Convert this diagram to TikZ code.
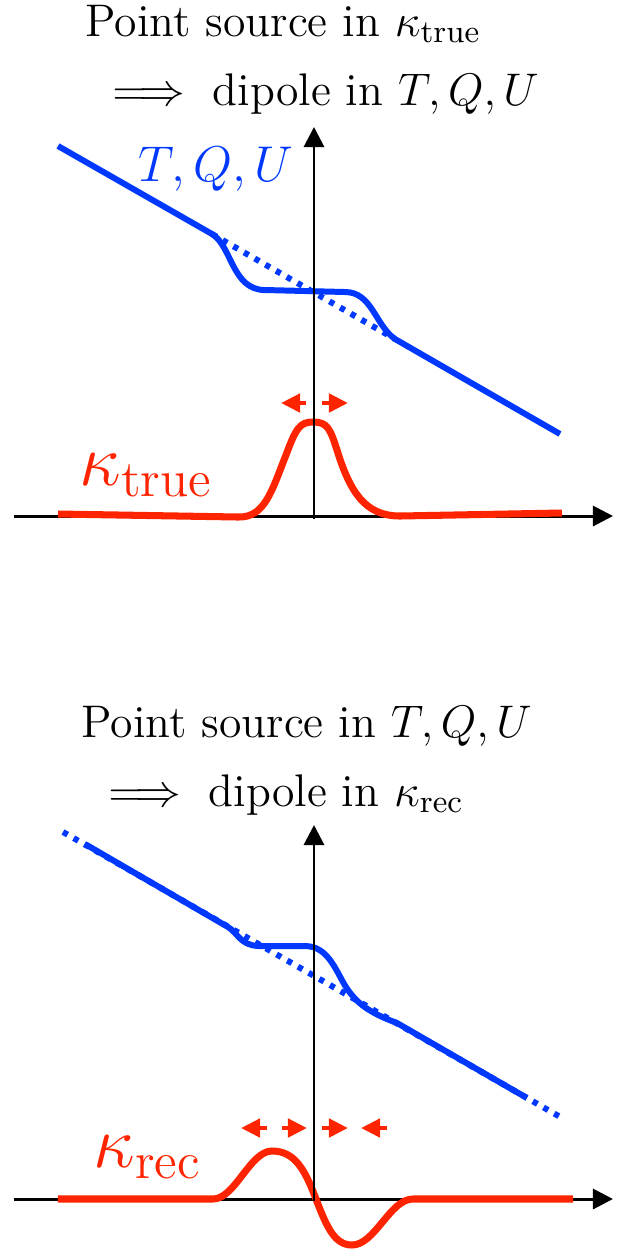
\documentclass[tikz,border=0pt]{standalone}
\usepackage{fix-cm}
\usepackage{amsmath}
\usepackage{tikz}
\definecolor{fieldblue}{RGB}{0,56,255}
\definecolor{kappared}{RGB}{255,36,0}
\usetikzlibrary{arrows.meta}

\begin{document}
\begin{tikzpicture}[x=0.01cm, y=-0.01cm,
    axis/.style={line width=0.85pt, -{Triangle[length=0.2cm, width=0.2cm]}},
    field/.style={fieldblue, line width=1.7pt},
    fielddot/.style={fieldblue, line width=1.7pt, dash pattern=on 1.5pt off 2pt},
    kappa/.style={kappared, line width=2pt},
    shiftarrow/.style={kappared, line width=1.3pt, -{Triangle[length=0.19cm, width=0.18cm]}},
    heading/.style={anchor=base west, inner sep=0pt, align=left, font=\fontsize{13}{19.6}\selectfont},
    fieldname/.style={anchor=base west, inner sep=0pt, fieldblue, font=\fontsize{14.3}{17}\selectfont},
    kappaname/.style={anchor=base west, inner sep=0pt, kappared, font=\fontsize{21}{25}\selectfont}
]
\useasboundingbox (0,0) rectangle (623,1250);

% Upper panel: point source in kappa
\node[heading] (headtrue) at (85,105) {Point source in $\kappa_{\mathrm{true}}$\\
    \hspace{1.4mm}$\implies$ dipole in $T,Q,U$};

\draw[axis] (14,516) -- (613,516);
\draw[fielddot] (212,234) -- (395,339);
\draw[field] (58,146) -- (212,234) .. controls (232,246) and (232,290) .. (265,290)
    -- (345,292) .. controls (372,292) and (375,325) .. (395,339) -- (560,434);
\draw[kappa] (58,514) -- (238,517) .. controls (265,518) and (272,490) .. (286,455)
    .. controls (296,428) and (300,422) .. (313,422)
    .. controls (327,422) and (330,428) .. (337,450)
    .. controls (350,492) and (365,516) .. (400,516) -- (562,513);
\draw[axis] (314,519) -- (314,127);
\draw[shiftarrow] (306,403) -- (281,403);
\draw[shiftarrow] (322,403) -- (348,403);

\node[fieldname] (tqutop) at (138,181) {$T,Q,U$};
\node[kappaname] (kaptrue) at (79,485) {$\kappa_{\mathrm{true}}$};

% Lower panel: point source in T,Q,U
\node[heading] (headtqu) at (81,806) {Point source in $T,Q,U$\\
    \hspace{1.4mm}$\implies$ dipole in $\kappa_{\mathrm{rec}}$};

\draw[axis] (14,1199) -- (613,1199);
\draw[fielddot] (63,832) -- (562,1118);
\draw[field] (85,844) -- (228,927) .. controls (238,933) and (240,945) .. (258,946)
    -- (305,946) .. controls (330,946) and (337,975) .. (348,990)
    .. controls (358,1004) and (370,1013) .. (397,1023) -- (527,1098);
\draw[kappa] (58,1199) -- (213,1199) .. controls (235,1199) and (250,1151) .. (272,1151)
    .. controls (295,1151) and (305,1170) .. (316,1199)
    .. controls (327,1228) and (335,1245) .. (352,1245)
    .. controls (375,1245) and (390,1199) .. (413,1199) -- (573,1199);
\draw[axis] (314,1201) -- (314,825);
\draw[shiftarrow] (267,1128) -- (241,1128);
\draw[shiftarrow] (282,1128) -- (307,1128);
\draw[shiftarrow] (322,1128) -- (348,1128);
\draw[shiftarrow] (387,1128) -- (361,1128);

\node[kappaname] (kaprec) at (93,1167) {$\kappa_{\mathrm{rec}}$};

\end{tikzpicture}
\end{document}
